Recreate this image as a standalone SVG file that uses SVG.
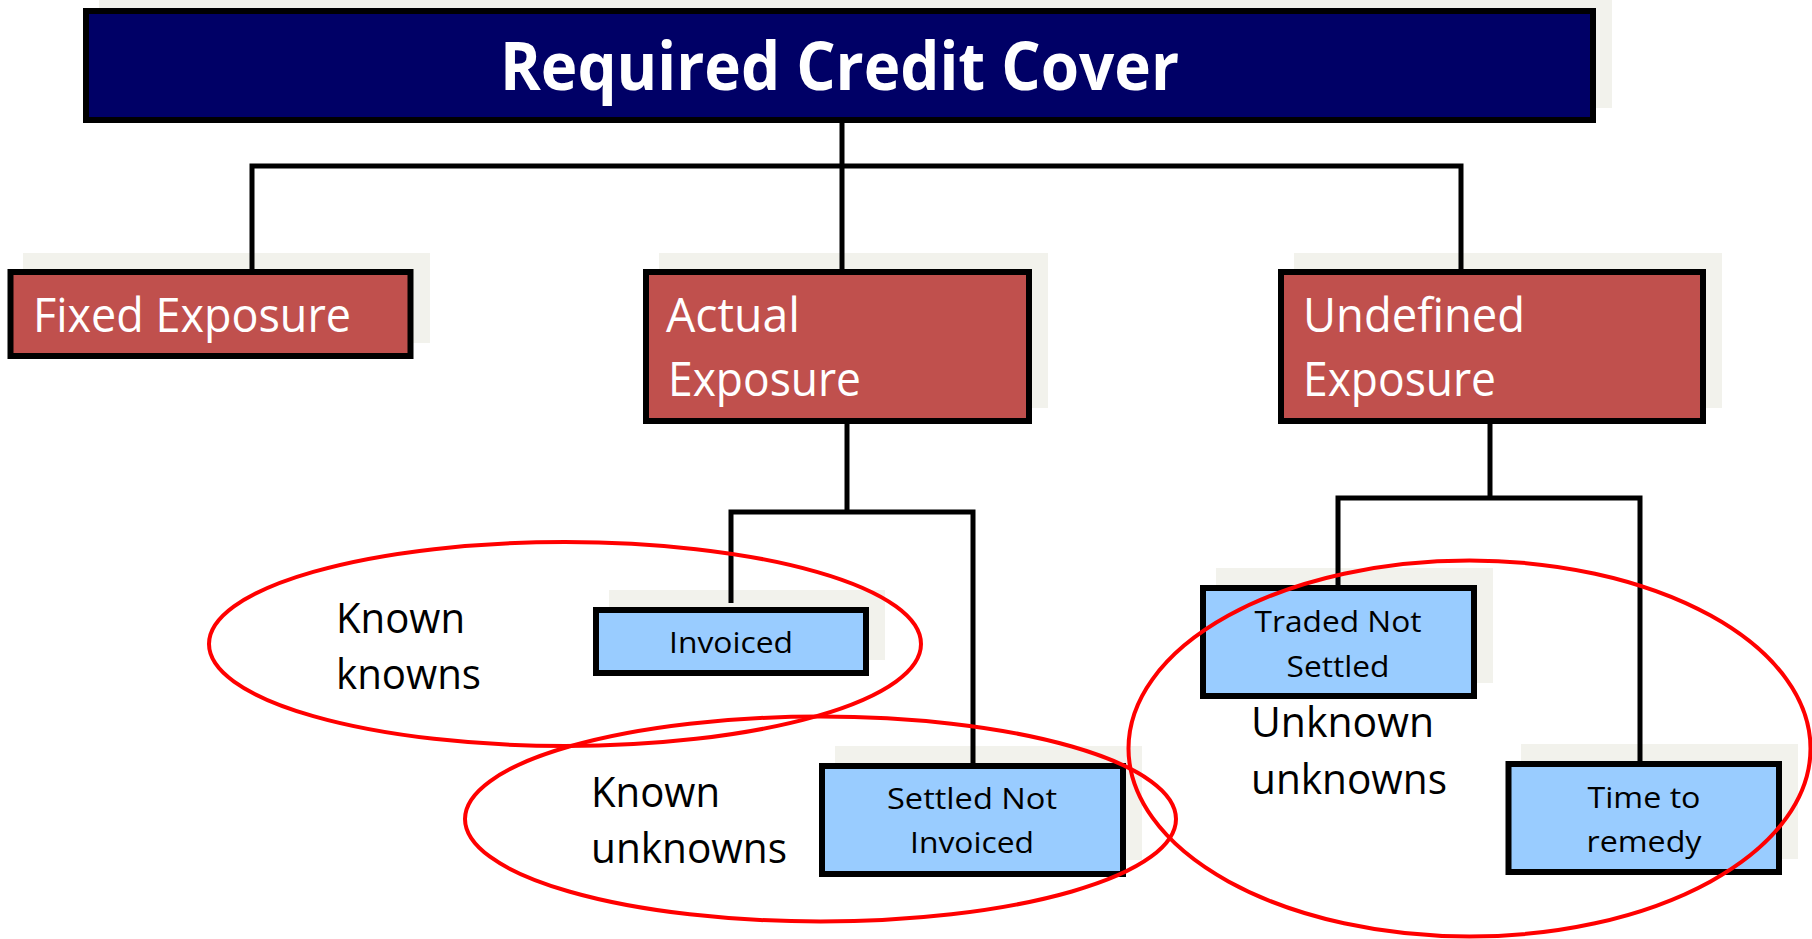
<svg xmlns="http://www.w3.org/2000/svg" width="1812" height="939" viewBox="0 0 1812 939">
  <style>
    .shadow { fill: #f2f2ec; }
    .title { fill: #000066; stroke: #000; stroke-width: 6; }
    .red { fill: #c0504d; stroke: #000; stroke-width: 6; }
    .blue { fill: #99ccff; stroke: #000; stroke-width: 6; }
    .wire { fill: none; stroke: #000; stroke-width: 5; }
    .ring { fill: none; stroke: #ff0000; stroke-width: 4; }
    text { font-family: "Open Sans", "Liberation Sans", sans-serif; }
    .tt { fill: #fff; font-weight: bold; font-size: 66px; }
    .rt { fill: #fff; font-size: 48px; }
    .bt { fill: #000; font-size: 30px; }
    .lt { fill: #000; font-size: 42px; }
  </style>
  <rect width="1812" height="939" fill="#fff"/>

  <!-- drop shadows behind boxes -->
  <g id="shadows">
    <rect class="shadow" x="99" y="-7" width="1513" height="115"/>
    <rect class="shadow" x="23" y="253" width="407" height="90"/>
    <rect class="shadow" x="659" y="253" width="389" height="155"/>
    <rect class="shadow" x="1294" y="253" width="428" height="155"/>
    <rect class="shadow" x="609" y="590" width="276" height="70"/>
    <rect class="shadow" x="835" y="746" width="307" height="114"/>
    <rect class="shadow" x="1216" y="568" width="277" height="115"/>
    <rect class="shadow" x="1521" y="744" width="277" height="115"/>
  </g>

  <!-- connectors -->
  <g id="connectors">
    <path class="wire" d="M842 123 V269"/>
    <path class="wire" d="M252 269 V166 H1461 V269"/>
    <path class="wire" d="M847 424 V512"/>
    <path class="wire" d="M731 603 V512 H973 V763"/>
    <path class="wire" d="M1490 424 V498"/>
    <path class="wire" d="M1338 585 V498 H1640 V744"/>
    <path class="wire" d="M1640 744 V761" stroke="#777"/>
  </g>

  <g id="required-credit-cover">
    <rect class="title" x="86" y="11" width="1507" height="109"/>
    <text class="tt" x="839.5" y="90" text-anchor="middle" textLength="679" lengthAdjust="spacingAndGlyphs">Required Credit Cover</text>
  </g>

  <g id="fixed-exposure">
    <rect class="red" x="10.5" y="272" width="400" height="84"/>
    <text class="rt" x="33" y="332" textLength="318" lengthAdjust="spacingAndGlyphs">Fixed Exposure</text>
  </g>

  <g id="actual-exposure">
    <rect class="red" x="646" y="272" width="383" height="149"/>
    <text class="rt" x="666" y="332" textLength="134" lengthAdjust="spacingAndGlyphs">Actual</text>
    <text class="rt" x="668" y="396" textLength="193" lengthAdjust="spacingAndGlyphs">Exposure</text>
  </g>

  <g id="undefined-exposure">
    <rect class="red" x="1281" y="272" width="422" height="149"/>
    <text class="rt" x="1303" y="332" textLength="222" lengthAdjust="spacingAndGlyphs">Undefined</text>
    <text class="rt" x="1303" y="396" textLength="193" lengthAdjust="spacingAndGlyphs">Exposure</text>
  </g>

  <g id="invoiced">
    <rect class="blue" x="596" y="610" width="270" height="63"/>
    <text class="bt" x="731" y="653" text-anchor="middle" textLength="124" lengthAdjust="spacingAndGlyphs">Invoiced</text>
  </g>

  <g id="settled-not-invoiced">
    <rect class="blue" x="822" y="766" width="301" height="108"/>
    <text class="bt" x="972" y="809" text-anchor="middle" textLength="170" lengthAdjust="spacingAndGlyphs">Settled Not</text>
    <text class="bt" x="972" y="853" text-anchor="middle" textLength="124" lengthAdjust="spacingAndGlyphs">Invoiced</text>
  </g>

  <g id="traded-not-settled">
    <rect class="blue" x="1203" y="588" width="271" height="108"/>
    <text class="bt" x="1338" y="632" text-anchor="middle" textLength="167" lengthAdjust="spacingAndGlyphs">Traded Not</text>
    <text class="bt" x="1338" y="677" text-anchor="middle" textLength="103" lengthAdjust="spacingAndGlyphs">Settled</text>
  </g>

  <g id="time-to-remedy">
    <rect class="blue" x="1508.5" y="764" width="270.5" height="108"/>
    <text class="bt" x="1644" y="808" text-anchor="middle" textLength="113" lengthAdjust="spacingAndGlyphs">Time to</text>
    <text class="bt" x="1644" y="852" text-anchor="middle" textLength="115" lengthAdjust="spacingAndGlyphs">remedy</text>
  </g>

  <!-- category labels and their rings -->
  <g id="known-knowns">
    <text class="lt" x="336" y="633" textLength="129" lengthAdjust="spacingAndGlyphs">Known</text>
    <text class="lt" x="336" y="689" textLength="145" lengthAdjust="spacingAndGlyphs">knowns</text>
    <ellipse class="ring" cx="565" cy="644" rx="356" ry="102"/>
  </g>

  <g id="known-unknowns">
    <text class="lt" x="591" y="807" textLength="129" lengthAdjust="spacingAndGlyphs">Known</text>
    <text class="lt" x="591" y="863" textLength="196" lengthAdjust="spacingAndGlyphs">unknowns</text>
    <ellipse class="ring" cx="820.5" cy="819" rx="355.5" ry="102.5"/>
  </g>

  <g id="unknown-unknowns">
    <text class="lt" x="1251" y="737" textLength="183" lengthAdjust="spacingAndGlyphs">Unknown</text>
    <text class="lt" x="1251" y="794" textLength="196" lengthAdjust="spacingAndGlyphs">unknowns</text>
    <ellipse class="ring" cx="1469.5" cy="748.5" rx="341" ry="188"/>
  </g>
</svg>
